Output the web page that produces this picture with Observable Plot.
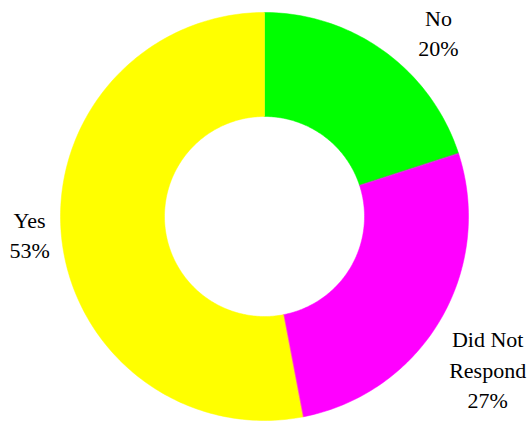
<!DOCTYPE html>
<html>
<head>
<meta charset="utf-8">
<script src="https://cdn.jsdelivr.net/npm/d3@7"></script>
<script src="https://cdn.jsdelivr.net/npm/@observablehq/plot@0.6"></script>
<style>html, body { margin: 0; }</style>
</head>
<body>
<div id="c"></div>
<script>
// Data
const categories = ["No", "Did Not Respond", "Yes"];
const labelLines = [["No"], ["Did Not", "Respond"], ["Yes"]];
const values = [20, 27, 53];
const colors = ["#00FF00", "#FF00FF", "#FFFF00"];

// Layout
const W = 531, H = 421;
const cx = 264, cy = 216, R = 204, r0 = 100;
const labelR = 250;
const lineH = 30.4;
const nudges = [[27, 20], [8, 27], [14, -4]];

const total = d3.sum(values);
let acc = 0;
const slices = values.map((v, i) => {
  const a0 = acc / total * 2 * Math.PI;
  acc += v;
  const a1 = acc / total * 2 * Math.PI;
  return {name: categories[i], value: v, color: colors[i], a0, a1};
});

// polygon points for each donut slice (angles clockwise from 12 o'clock)
const pts = [];
for (const s of slices) {
  const n = Math.max(8, Math.ceil((s.a1 - s.a0) / (Math.PI / 180)));
  for (let k = 0; k <= n; k++) {
    const a = s.a0 + (s.a1 - s.a0) * k / n;
    pts.push({name: s.name, x: cx + R * Math.sin(a), y: cy - R * Math.cos(a)});
  }
  for (let k = n; k >= 0; k--) {
    const a = s.a0 + (s.a1 - s.a0) * k / n;
    pts.push({name: s.name, x: cx + r0 * Math.sin(a), y: cy - r0 * Math.cos(a)});
  }
}

// one text datum per label line
const labelRows = [];
slices.forEach((s, i) => {
  const m = (s.a0 + s.a1) / 2;
  const lx = cx + labelR * Math.sin(m) + nudges[i][0];
  const ly = cy - labelR * Math.cos(m) + nudges[i][1];
  const lines = [...labelLines[i], Math.round(s.value / total * 100) + "%"];
  lines.forEach((t, j) => {
    labelRows.push({text: t, x: lx, y: ly + (j - (lines.length - 1) / 2) * lineH});
  });
});

document.getElementById("c").appendChild(Plot.plot({
  width: W,
  height: H,
  margin: 0,
  x: {domain: [0, W], axis: null},
  y: {domain: [0, H], axis: null, reverse: true},
  marks: [
    ...slices.map(s => Plot.line(pts.filter(p => p.name === s.name), {
      x: "x", y: "y", curve: "linear-closed",
      fill: s.color, stroke: s.color, strokeWidth: 0.5
    })),
    ...labelRows.map(row => Plot.text([row], {
      x: d => d.x, y: d => d.y, text: d => d.text,
      fontFamily: "Liberation Serif", fontSize: 22
    }))
  ]
}));
</script>
</body>
</html>
